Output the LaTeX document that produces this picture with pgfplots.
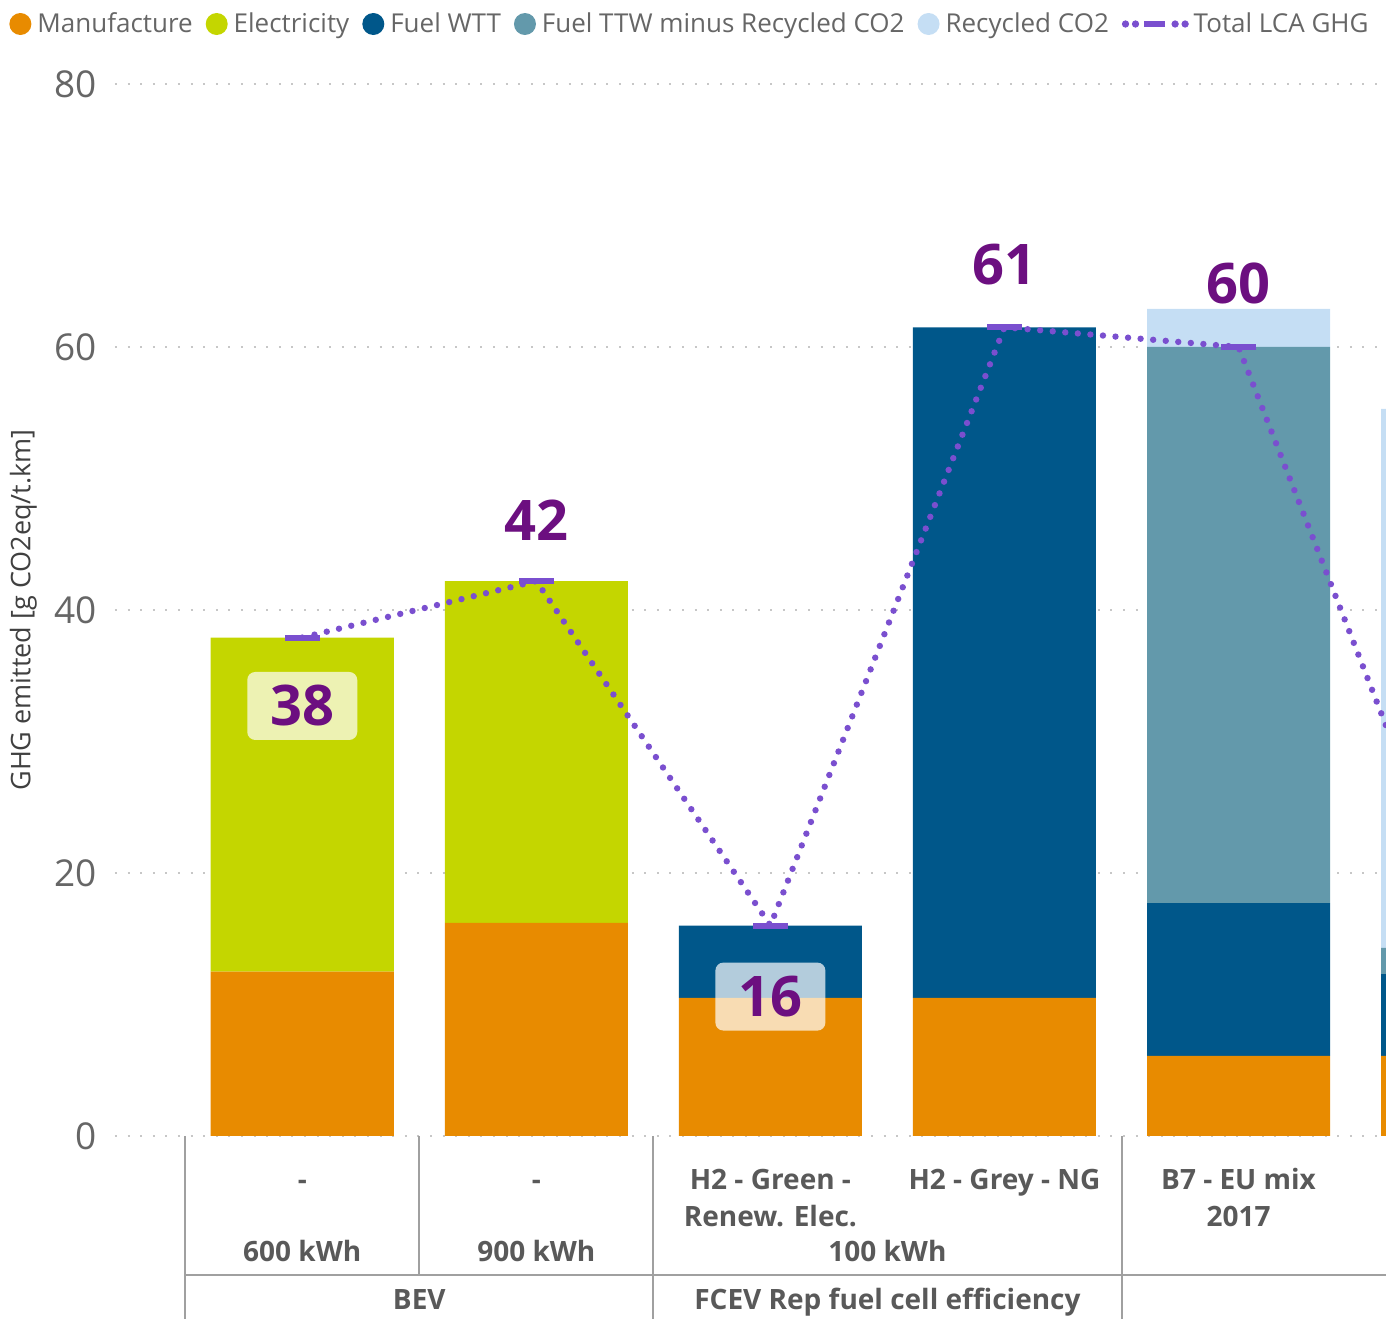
\documentclass[border=0pt]{standalone}
\usepackage{pgfplots}
\pgfplotsset{compat=1.18}
\usepackage{fontspec}
\setmainfont{Open Sans}
\definecolor{mfg}{HTML}{E88B00}
\definecolor{elec}{HTML}{C4D600}
\definecolor{wtt}{HTML}{00578A}
\definecolor{ttw}{HTML}{6399AB}
\definecolor{rec}{HTML}{C5DEF4}
\definecolor{tot}{HTML}{7A4FCF}
\definecolor{lab}{HTML}{6C0F80}
\definecolor{txt}{HTML}{666666}
\definecolor{cat}{HTML}{595959}
\definecolor{sepc}{HTML}{A0A0A0}
\pgfplotsset{
  base/.style={
    width=635.5pt, height=526pt, scale only axis,
    xmin=-0.80, xmax=4.63, ymin=0, ymax=80,
    axis line style={draw=none}, major tick length=0pt, tick style={draw=none},
  },
}
\newcommand{\catfont}{\bfseries\fontsize{14}{16}\selectfont}
\newcommand{\labfont}{\bfseries\fontsize{28}{30}\selectfont}
\begin{document}
\begin{tikzpicture}
\begin{axis}[base, ybar stacked, bar width=0.782,
  ytick={0,20,40,60,80}, ymajorgrids,
  grid style={draw=black!22, line width=1pt, dash pattern=on 1pt off 5.3pt},
  /pgf/number format/assume math mode=true,
  yticklabel style={font=\fontsize{18.5}{20}\selectfont, text=txt, inner sep=0pt, anchor=east, xshift=-9pt},
  xtick={0,1,2,3,4}, xticklabels={-,-,H2 - Green -,H2 - Grey - NG,B7 - EU mix},
  xticklabel style={font=\catfont, text=cat, anchor=base, yshift=-27pt, inner sep=0pt},
  ylabel={GHG emitted [g CO2eq/t.km]},
  ylabel style={at={(axis description cs:-0.0720,0.5)}, anchor=center, font=\fontsize{13.5}{15}\selectfont, text=black!75},
  legend style={at={(axis description cs:-0.0834,1.057)}, anchor=west, draw=none, fill=none,
    legend columns=-1, font=\fontsize{13}{15}\selectfont, text=txt, inner sep=0pt,
    nodes={inner sep=1.5pt},
    /tikz/every even column/.append style={column sep=5pt}},
]
\addplot[fill=mfg, draw=none, legend image code/.code={\fill[mfg] (5.5pt,0pt) circle (5.5pt); \path (12.5pt,0);}]
  coordinates {(0,12.5) (1,16.2) (2,10.5) (3,10.5) (4,6.1) (5,6.1)};
\addlegendentry{Manufacture}
\addplot[fill=elec, draw=none, legend image code/.code={\fill[elec] (5.5pt,0pt) circle (5.5pt); \path (12.5pt,0);}]
  coordinates {(0,25.4) (1,26.0) (2,0) (3,0) (4,0) (5,0)};
\addlegendentry{Electricity}
\addplot[fill=wtt, draw=none, legend image code/.code={\fill[wtt] (5.5pt,0pt) circle (5.5pt); \path (12.5pt,0);}]
  coordinates {(0,0) (1,0) (2,5.5) (3,51.0) (4,11.6) (5,6.2)};
\addlegendentry{Fuel WTT}
\addplot[fill=ttw, draw=none, legend image code/.code={\fill[ttw] (5.5pt,0pt) circle (5.5pt); \path (12.5pt,0);}]
  coordinates {(0,0) (1,0) (2,0) (3,0) (4,42.3) (5,2.0)};
\addlegendentry{Fuel TTW minus Recycled CO2}
\addplot[fill=rec, draw=none, legend image code/.code={\fill[rec] (5.5pt,0pt) circle (5.5pt); \path (12.5pt,0);}]
  coordinates {(0,0) (1,0) (2,0) (3,0) (4,2.9) (5,41.0)};
\addlegendentry{Recycled CO2}
\addlegendimage{legend image code/.code={
  \fill[tot] (1.6pt,0) circle (1.6pt); \fill[tot] (6.6pt,0) circle (1.6pt);
  \draw[tot, line width=3pt] (11pt,0) -- (21.5pt,0);
  \fill[tot] (26.4pt,0) circle (1.6pt); \fill[tot] (31.4pt,0) circle (1.6pt); \path (34pt,0);}}
\addlegendentry{Total LCA GHG}
\coordinate (sepA) at (axis cs:-0.5,0);
\coordinate (sepB) at (axis cs:0.5,0);
\coordinate (sepC) at (axis cs:1.5,0);
\coordinate (sepD) at (axis cs:3.5,0);
\coordinate (c0) at (axis cs:0,0);
\coordinate (c1) at (axis cs:1,0);
\coordinate (c2) at (axis cs:2,0);
\coordinate (c25) at (axis cs:2.5,0);
\coordinate (c4) at (axis cs:4,0);
\coordinate (sw) at (rel axis cs:0,0);
\coordinate (ne) at (rel axis cs:1,1);
\end{axis}
\begin{axis}[base, xtick=\empty, ytick=\empty]
\addplot[tot, line width=3.2pt, line cap=round, dash pattern=on 0pt off 6.3pt,
  mark=-, mark size=8.75pt, mark options={solid, line width=3pt, line cap=butt}]
  coordinates {(0,37.9) (1,42.2) (2,16.0) (3,61.5) (4,60.0) (5,14.3)};
\node[font=\labfont, text=lab, fill=white, fill opacity=0.7, text opacity=1, rounded corners=4pt,
  minimum width=55pt, minimum height=34pt, inner sep=0pt] at (axis cs:0,32.7) {38};
\node[font=\labfont, text=lab] at (axis cs:1,46.8) {42};
\node[font=\labfont, text=lab, fill=white, fill opacity=0.7, text opacity=1, rounded corners=4pt,
  minimum width=55pt, minimum height=34pt, inner sep=0pt] at (axis cs:2,10.6) {16};
\node[font=\labfont, text=lab] at (axis cs:3,66.3) {61};
\node[font=\labfont, text=lab] at (axis cs:4,64.8) {60};
\end{axis}
\begin{scope}[sepc, line width=1pt]
\draw (sepA) -- ++(0,-91.5pt);
\draw (sepB) -- ++(0,-69.5pt);
\draw (sepC) -- ++(0,-91.5pt);
\draw (sepD) -- ++(0,-91.5pt);
\draw ([yshift=-69.5pt]sepA) -- ([yshift=-69.5pt]sepA -| ne);
\end{scope}
\begin{scope}[every node/.style={font=\catfont, text=cat, anchor=base, inner sep=0pt}]
\node at ([yshift=-45.5pt]c2) {Renew. Elec.};
\node at ([yshift=-45.5pt]c4) {2017};
\node at ([yshift=-63pt]c0) {600 kWh};
\node at ([yshift=-63pt]c1) {900 kWh};
\node at ([yshift=-63pt]c25) {100 kWh};
\node at ([yshift=-87pt]sepB) {BEV};
\node at ([yshift=-87pt]c25) {FCEV Rep fuel cell efficiency};
\end{scope}
\pgfresetboundingbox
\useasboundingbox ([xshift=-57.5pt,yshift=-91.5pt]sw) rectangle ([yshift=42pt]ne);
\end{tikzpicture}
\end{document}
